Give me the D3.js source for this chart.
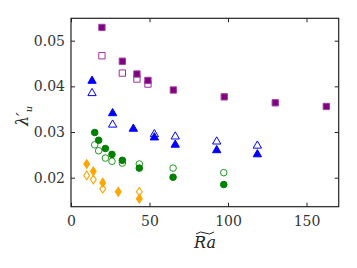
<!DOCTYPE html>
<html><head><meta charset="utf-8">
<script src="https://cdn.jsdelivr.net/npm/d3@7"></script>
<style>body{margin:0;background:#fff} svg text{font-family:"DejaVu Serif","Liberation Serif",serif}</style>
</head><body>
<svg id="c" width="357" height="268"></svg>
<script>
const xTicks=[0,50,100,150];
const yTicks=[0.02,0.03,0.04,0.05];
const yTickLabels=["0.02","0.03","0.04","0.05"];
const purpleFilledX=[19.7,32.7,42,49,65.2,97.6,130.1,162.6];
const purpleFilledY=[0.0529,0.0455,0.0427,0.0413,0.0392,0.0377,0.0364,0.0356];
const purpleOpenX=[19.7,32.7,42,49];
const purpleOpenY=[0.0467,0.0429,0.0416,0.0405];
const blueFilledX=[13.4,26.5,39.7,53.1,66.4,92.8,118.7];
const blueFilledY=[0.0412,0.0341,0.0307,0.0288,0.0272,0.0260,0.0251];
const blueOpenX=[13.4,26.5,53.1,66.4,92.8,118.7];
const blueOpenY=[0.0385,0.0316,0.0295,0.0290,0.0279,0.0270];
const greenFilledX=[15.1,17.6,21.9,26.1,32.7,43.5,65,97.3];
const greenFilledY=[0.0299,0.0282,0.0264,0.0251,0.0238,0.0221,0.0201,0.0185];
const greenOpenX=[15.1,17.6,21.9,26.1,32.7,43.5,65,97.3];
const greenOpenY=[0.0272,0.0259,0.0243,0.0236,0.0232,0.0230,0.0221,0.0211];
const orangeFilledX=[10.0,14.2,20.2,30.1,43.5];
const orangeFilledY=[0.0230,0.0214,0.0189,0.0169,0.0154];
const orangeOpenX=[10.0,14.2,20.2,43.5];
const orangeOpenY=[0.0205,0.0196,0.0176,0.0169];

const L=71,R=338.7,T=18.3,B=206.7;
const svg=d3.select("#c");
const x=d3.scaleLinear().domain([0,170.5]).range([L,R]);
const y=d3.scaleLinear().domain([0.01365,0.0549]).range([B,T]);
const font="DejaVu Serif";

function pts(xs,ys){return xs.map((v,i)=>[v,ys[i]]);}
const series=[
 {d:pts(orangeOpenX,orangeOpenY),shape:d3.symbolDiamond,size:22,fill:"#fff",stroke:"#ffa500"},
 {d:pts(orangeFilledX,orangeFilledY),shape:d3.symbolDiamond,size:22,fill:"#ffa500",stroke:"#ffa500"},
 {d:pts(greenOpenX,greenOpenY),shape:d3.symbolCircle,size:34,fill:"#fff",stroke:"#1f9a1f"},
 {d:pts(greenFilledX,greenFilledY),shape:d3.symbolCircle,size:34,fill:"#008000",stroke:"#008000"},
 {d:pts(blueOpenX,blueOpenY),shape:d3.symbolTriangle,size:30,fill:"#fff",stroke:"#0000ff"},
 {d:pts(blueFilledX,blueFilledY),shape:d3.symbolTriangle,size:30,fill:"#0000ff",stroke:"#0000ff"},
 {d:pts(purpleOpenX,purpleOpenY),shape:d3.symbolSquare,size:40,fill:"#fff",stroke:"#a030a0"},
 {d:pts(purpleFilledX,purpleFilledY),shape:d3.symbolSquare,size:40,fill:"#800080",stroke:"#a040a0"},
];
series.forEach(s=>{
  svg.append("g").selectAll("path").data(s.d).join("path")
   .attr("transform",d=>`translate(${x(d[0])},${y(d[1])})`+(s.shape===d3.symbolDiamond?" scale(1.15,1.0)":""))
   .attr("d",d3.symbol().type(s.shape).size(s.size)())
   .attr("fill",s.fill).attr("stroke",s.stroke).attr("stroke-width",1);
});

const ax=svg.append("g").attr("transform",`translate(0,${B})`).call(d3.axisBottom(x).tickValues(xTicks).tickSizeInner(-4).tickSizeOuter(0).tickPadding(9));
const axT=svg.append("g").attr("transform",`translate(0,${T})`).call(d3.axisTop(x).tickValues(xTicks).tickSizeInner(-4).tickSizeOuter(0).tickFormat(""));
const ay=svg.append("g").attr("transform",`translate(${L},0)`).call(d3.axisLeft(y).tickValues(yTicks).tickFormat((d,i)=>yTickLabels[i]).tickSizeInner(-4).tickSizeOuter(0).tickPadding(6));
const ayR=svg.append("g").attr("transform",`translate(${R},0)`).call(d3.axisRight(y).tickValues(yTicks).tickSizeInner(-4).tickSizeOuter(0).tickFormat(""));
[ax,axT,ay,ayR].forEach(g=>{
  g.attr("font-family",null);
  g.select(".domain").remove();
  g.selectAll("line").attr("stroke","#222");
  g.selectAll("text").style("font-family",font).attr("font-size",14).attr("fill","#333");
});
svg.append("rect").attr("x",L).attr("y",T).attr("width",R-L).attr("height",B-T).attr("fill","none").attr("stroke","#222").attr("stroke-width",1.2);

svg.append("text").attr("x",205).attr("y",248).attr("text-anchor","middle").style("font-family",font).attr("font-style","italic").attr("font-size",16).attr("fill","#222").text("Ra");
svg.append("path").attr("d","M196,234 q4.5,-3.5 9,-1 q4.5,2.5 9,-1").attr("fill","none").attr("stroke","#222").attr("stroke-width",1);

const yl=svg.append("text").attr("transform","translate(28,116) rotate(-90)").attr("text-anchor","middle").style("font-family",font).attr("font-style","italic").attr("font-size",16).attr("fill","#222");
yl.append("tspan").text("λ′");
yl.append("tspan").attr("font-size",10).attr("dy",4).text("u");
</script>
</body></html>
